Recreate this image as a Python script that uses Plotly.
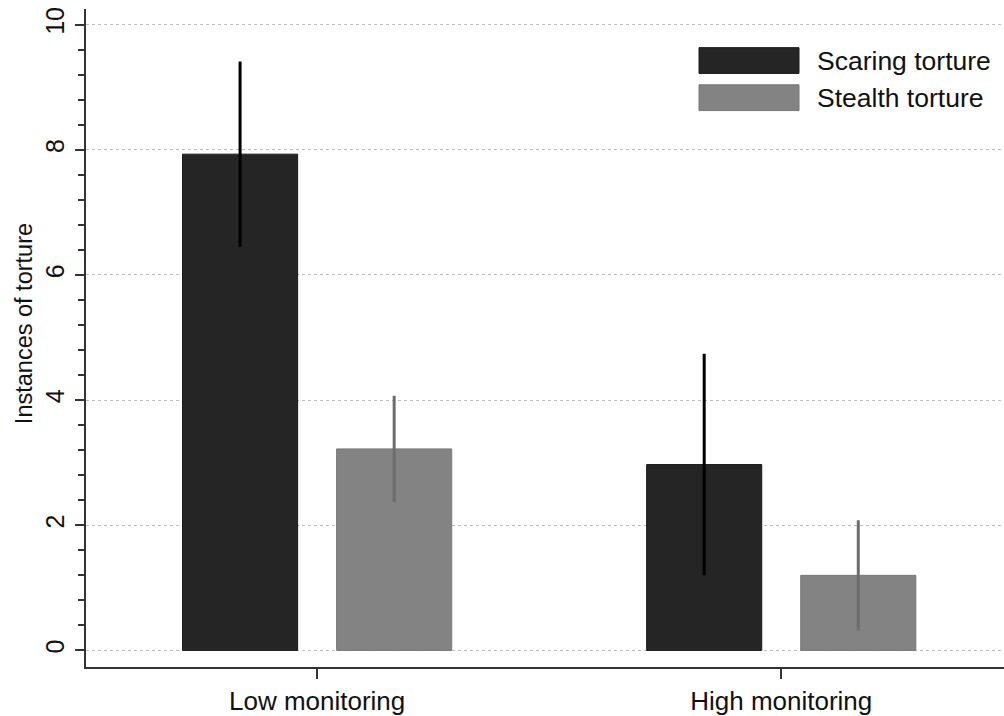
import plotly.graph_objects as go

categories = ["Low monitoring", "High monitoring"]
series_names = ["Scaring torture", "Stealth torture"]
scaring_values = [7.93, 2.97]
scaring_err = [1.48, 1.77]
stealth_values = [3.22, 1.20]
stealth_err = [0.85, 0.88]
y_tick_step = 2
y_minor_step = 0.4
y_max_tick = 10
y_title = "Instances of torture"

FONT = "Liberation Sans, Arial, sans-serif"
dark = "#252525"
gray = "#838383"
Y_RANGE = [-0.265, 10.25]
PLOT_W = 918

# all tick positions (every 0.4) with labels only on the even values
n_minor = int(round(y_max_tick / y_minor_step))
step_ratio = int(round(y_tick_step / y_minor_step))
all_ticks = [round(k * y_minor_step, 6) for k in range(n_minor + 1)]
all_text = [str(int(round(v))) if k % step_ratio == 0 else ""
            for k, v in enumerate(all_ticks)]

fig = go.Figure()
fig.add_trace(go.Bar(
    x=categories, y=scaring_values, name=series_names[0],
    width=0.248, offset=-0.29,
    marker=dict(color=dark, line=dict(color="#1a1a1a", width=1)),
    error_y=dict(type="data", array=scaring_err, visible=True, color="#000000",
                 thickness=3, width=0),
    showlegend=False,
))
fig.add_trace(go.Bar(
    x=categories, y=stealth_values, name=series_names[1],
    width=0.248, offset=0.042, yaxis="y2",
    marker=dict(color=gray, line=dict(color="#777777", width=1)),
    error_y=dict(type="data", array=stealth_err, visible=True, color="#6c6c6c",
                 thickness=3, width=0),
    showlegend=False,
))

# legend drawn as keys + labels
legend_colors = [(dark, "#1a1a1a"), (gray, "#777777")]
for i, (name, (fc, lc)) in enumerate(zip(series_names, legend_colors)):
    y0 = 1 - (48 - 9 + i * 37.5) / 664
    y1 = y0 - 26 / 664
    fig.add_shape(type="rect", xref="paper", yref="paper",
                  x0=(699 - 86) / PLOT_W, x1=(799 - 86) / PLOT_W, y0=y1, y1=y0,
                  fillcolor=fc, line=dict(color=lc, width=1), layer="above")
    fig.add_annotation(xref="paper", yref="paper", x=(815 - 86) / PLOT_W,
                       y=(y0 + y1) / 2, text=name, showarrow=False,
                       xanchor="left", yanchor="middle",
                       font=dict(family=FONT, size=26.5, color="#111111"))

# y-axis title
fig.add_annotation(xref="paper", yref="paper", x=-(86 - 24) / PLOT_W,
                   y=1 - (327 - 9) / 664, text=y_title, textangle=-90,
                   showarrow=False, xanchor="center", yanchor="middle",
                   font=dict(family=FONT, size=23.5, color="#111111"))

fig.update_layout(
    width=1004, height=716,
    margin=dict(l=86, r=0, t=9, b=43),
    paper_bgcolor="white", plot_bgcolor="white",
    barmode="overlay",
    font=dict(family=FONT, color="#111111"),
    xaxis=dict(
        range=[-0.498, 1.48],
        showline=True, linecolor="#333333", linewidth=2,
        ticks="outside", ticklen=10, tickwidth=2, tickcolor="#333333",
        tickfont=dict(size=26, color="#111111"),
        showgrid=False, zeroline=False,
    ),
    # main y axis: short ticks every 0.4, labels on even values, no grid
    yaxis=dict(
        range=Y_RANGE,
        tickmode="array", tickvals=all_ticks, ticktext=all_text,
        tickangle=-90,
        showline=True, linecolor="#333333", linewidth=2,
        ticks="outside", ticklen=6, tickwidth=2, tickcolor="#333333",
        tickfont=dict(size=25, color="#111111"),
        ticklabelstandoff=4,
        showgrid=False, zeroline=False,
    ),
    # overlay y axis: long major ticks and dotted grid at the even values
    yaxis2=dict(
        range=Y_RANGE, overlaying="y", anchor="x", side="left",
        tickmode="linear", tick0=0, dtick=y_tick_step,
        ticks="outside", ticklen=10, tickwidth=2, tickcolor="#333333",
        showticklabels=False, showline=False, zeroline=False,
        showgrid=True, gridcolor="#bdbdbd", gridwidth=1, griddash="dot",
    ),
)

fig.write_html("out.html")
